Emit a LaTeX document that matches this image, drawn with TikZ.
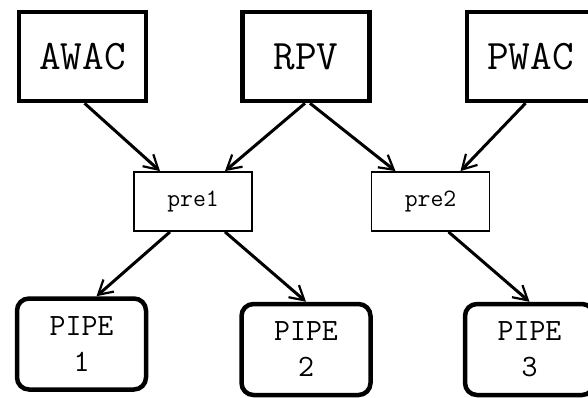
\documentclass[tikz,border=0pt]{standalone}
\usepackage{fontspec}
\usetikzlibrary{arrows.meta}

\tikzset{
  source/.style={draw, line width=4.5pt, minimum width=127pt, minimum height=89pt,
    font=\ttfamily\fontsize{42}{44}\selectfont},
  prebox/.style={draw, line width=1.8pt, minimum width=118pt, minimum height=59pt,
    font=\ttfamily\fontsize{25}{27}\selectfont},
  pipebox/.style={draw, line width=4.5pt, rounded corners=12pt, minimum width=129pt,
    minimum height=91pt, align=center, font=\ttfamily\fontsize{31}{36}\selectfont},
  link/.style={line width=3pt, -{Straight Barb[length=14pt,width=16pt,line width=2.2pt]}}
}

\begin{document}
\begin{tikzpicture}[x=1pt,y=-1pt]
    \useasboundingbox (0,0) rectangle (588,398);

    % sources
    \node [source] (awac) at (82.5, 56.5) {AWAC};
    \node [source] (rpv) at (306, 56.5) {RPV};
    \node [source] (pwac) at (530.5, 56.5) {PWAC};

    % pre stages
    \node [prebox] (pre1) at (193, 201.5) {pre1};
    \node [prebox] (pre2) at (430.5, 201.5) {pre2};

    % pipes
    \node [pipebox] (pipe1) at (81.5, 344) {PIPE\\1};
    \node [pipebox] (pipe2) at (306, 349.5) {PIPE\\2};
    \node [pipebox] (pipe3) at (529.5, 349.5) {PIPE\\3};

    % arrows
    \draw [link] ([xshift=2pt]awac.south) -- ([xshift=-33pt]pre1.north);
    \draw [link] ([xshift=-1pt]rpv.south) -- ([xshift=32pt]pre1.north);
    \draw [link] ([xshift=4pt]rpv.south) -- ([xshift=-35pt]pre2.north);
    \draw [link] ([xshift=-5pt]pwac.south) -- ([xshift=30pt]pre2.north);
    \draw [link] ([xshift=-23pt]pre1.south) -- ([xshift=15pt]pipe1.north);
    \draw [link] ([xshift=32pt]pre1.south) -- ([xshift=0pt]pipe2.north);
    \draw [link] ([xshift=18pt]pre2.south) -- ([xshift=0pt]pipe3.north);

\end{tikzpicture}
\end{document}
